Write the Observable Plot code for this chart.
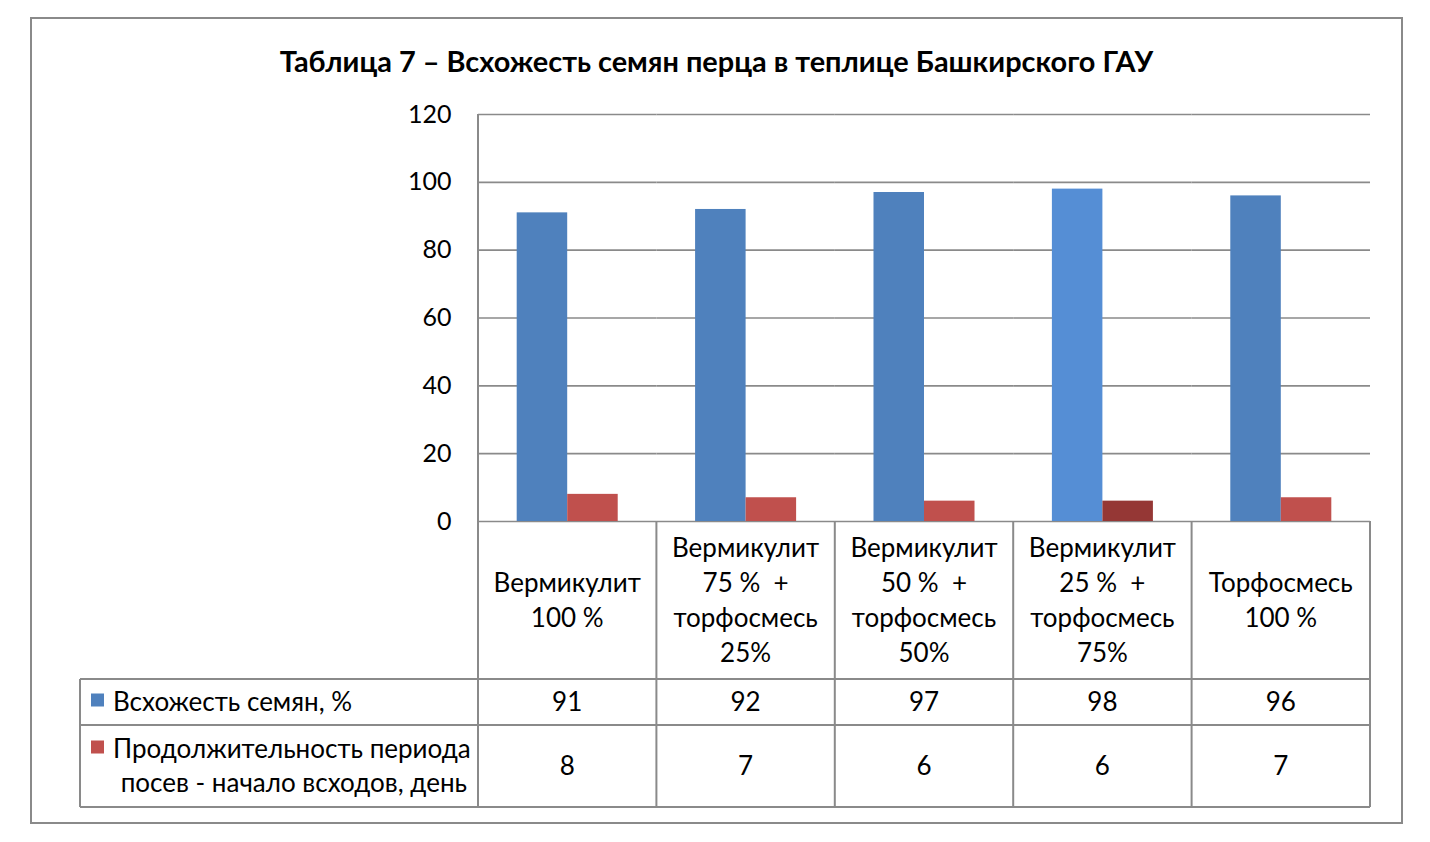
<!DOCTYPE html>
<html><head><meta charset="utf-8">
<script src="https://cdn.jsdelivr.net/npm/d3@7"></script>
<script src="https://cdn.jsdelivr.net/npm/@observablehq/plot@0.6"></script>
<style>
body{margin:0;background:#fff;}
#wrap{position:relative;width:1430px;height:842px;overflow:hidden;font-family:Lato, "Liberation Sans", sans-serif;}
#frame{position:absolute;left:30px;top:17px;width:1369px;height:803px;border:2px solid #8a8a8a;}
#title{position:absolute;left:31px;width:1371px;top:43px;line-height:36px;text-align:center;font-weight:bold;font-size:28.9px;color:#000;}
#chart{position:absolute;left:0;top:0;}
</style></head><body>
<div id="wrap"><div id="frame"></div><div id="title">Таблица 7 – Всхожесть семян перца в теплице Башкирского ГАУ</div><div id="chart"></div></div>
<script>
// ---- data ----
const categories = ["Вермикулит 100 %", "Вермикулит 75 % + торфосмесь 25%", "Вермикулит 50 % + торфосмесь 50%", "Вермикулит 25 % + торфосмесь 75%", "Торфосмесь 100 %"];
const categoryLabels = [
  ["Вермикулит", "100 %"],
  ["Вермикулит", "75 %\u00a0 +", "торфосмесь", "25%"],
  ["Вермикулит", "50 %\u00a0 +", "торфосмесь", "50%"],
  ["Вермикулит", "25 %\u00a0 +", "торфосмесь", "75%"],
  ["Торфосмесь", "100 %"]
];
const seriesNames = ["Всхожесть семян, %", "Продолжительность периода посев - начало всходов, день"];
const seriesLegendLines = [["Всхожесть семян, %"], ["Продолжительность периода", "посев - начало всходов, день"]];
const germination = [91, 92, 97, 98, 96];
const duration = [8, 7, 6, 6, 7];
const yTicks = [0, 20, 40, 60, 80, 100, 120];

// ---- styles ----
const baseColors = ["#4F81BD", "#C0504D"];
const highlightColors = ["#558ED5", "#953735"];
const highlightCategory = 3;
const lineColor = "#8a8a8a";
const tickFontSize = 25;
const tableFontSize = 26;
const fontFamily = "Lato, 'Liberation Sans', sans-serif";

const seriesValues = [germination, duration];
const rows = [];
categories.forEach((c, i) => {
  seriesNames.forEach((s, j) => rows.push({cat: c, ci: i, series: s, sj: j, value: seriesValues[j][i]}));
});

const chart = Plot.plot({
  width: 1430,
  height: 842,
  marginLeft: 478,
  marginRight: 60,
  marginTop: 114,
  marginBottom: 321,
  style: {fontFamily: fontFamily, fontSize: tickFontSize + "px", color: "#000", background: "transparent"},
  facet: {data: rows, x: "cat"},
  fx: {domain: categories, padding: 0, axis: null, round: false},
  x: {domain: seriesNames, paddingInner: 0, paddingOuter: 0.766, axis: null, round: false},
  y: {domain: [0, 120], axis: null, label: null},
  marks: [
    Plot.ruleY(yTicks, {stroke: lineColor, strokeWidth: 1.6}),
    Plot.axisY(yTicks, {tickSize: 0, tickPadding: 27, fontSize: tickFontSize, fill: "#000", label: null}),
    Plot.barY(rows, {x: "series", y: "value",
      fill: d => (d.ci === highlightCategory ? highlightColors : baseColors)[d.sj]})
  ]
});
document.getElementById("chart").appendChild(chart);

// ---- data table below the chart, positioned from Plot's scales ----
const fx = chart.scale("fx");
const ys = chart.scale("y");
const svg = d3.select(chart);
const g = svg.append("g").attr("font-family", fontFamily).attr("font-size", tableFontSize);
const left = fx.apply(categories[0]);
const right = fx.apply(categories[categories.length - 1]) + fx.bandwidth;
const y0 = ys.apply(0);
const yTop = ys.apply(120);
const headerH = 158, row1H = 46, row2H = 82;
const rowY = [y0 + headerH, y0 + headerH + row1H, y0 + headerH + row1H + row2H];
const tableLeft = 80;

const line = (x1, y1, x2, y2) => g.append("line").attr("x1", x1).attr("y1", y1).attr("x2", x2).attr("y2", y2)
  .attr("stroke", lineColor).attr("stroke-width", 2);
rowY.forEach(yy => line(tableLeft, yy, right, yy));
line(tableLeft, rowY[0], tableLeft, rowY[2]);
line(left, yTop, left, rowY[2]);
categories.forEach(c => line(fx.apply(c) + fx.bandwidth, y0, fx.apply(c) + fx.bandwidth, rowY[2]));

const lh = 35;
categories.forEach((c, i) => {
  const cx = fx.apply(c) + fx.bandwidth / 2;
  const lines = categoryLabels[i];
  const cy = y0 + headerH / 2 - 1;
  lines.forEach((t, k) => {
    g.append("text").attr("x", cx).attr("y", cy + (k - (lines.length - 1) / 2) * lh)
      .attr("text-anchor", "middle").attr("dominant-baseline", "central").attr("fill", "#000").text(t);
  });
  seriesValues.forEach((vals, j) => {
    const top = rowY[j], bottom = rowY[j + 1];
    g.append("text").attr("x", cx).attr("y", (top + bottom) / 2 - 1)
      .attr("text-anchor", "middle").attr("dominant-baseline", "central").attr("fill", "#000").text(vals[i]);
  });
});

// legend keys in the table
seriesLegendLines.forEach((lines, j) => {
  const top = rowY[j], bottom = rowY[j + 1];
  const cy = (top + bottom) / 2 - 1.5;
  const firstY = cy - (lines.length - 1) / 2 * 34;
  g.append("rect").attr("x", 91).attr("y", firstY - 7).attr("width", 13).attr("height", 13).attr("fill", baseColors[j]);
  lines.forEach((t, k) => {
    const txt = g.append("text").attr("y", firstY + k * 34).attr("dominant-baseline", "central").attr("fill", "#000").text(t);
    if (k === 0) txt.attr("x", 113).attr("text-anchor", "start");
    else txt.attr("x", 467).attr("text-anchor", "end");
  });
});
</script>
</body></html>
